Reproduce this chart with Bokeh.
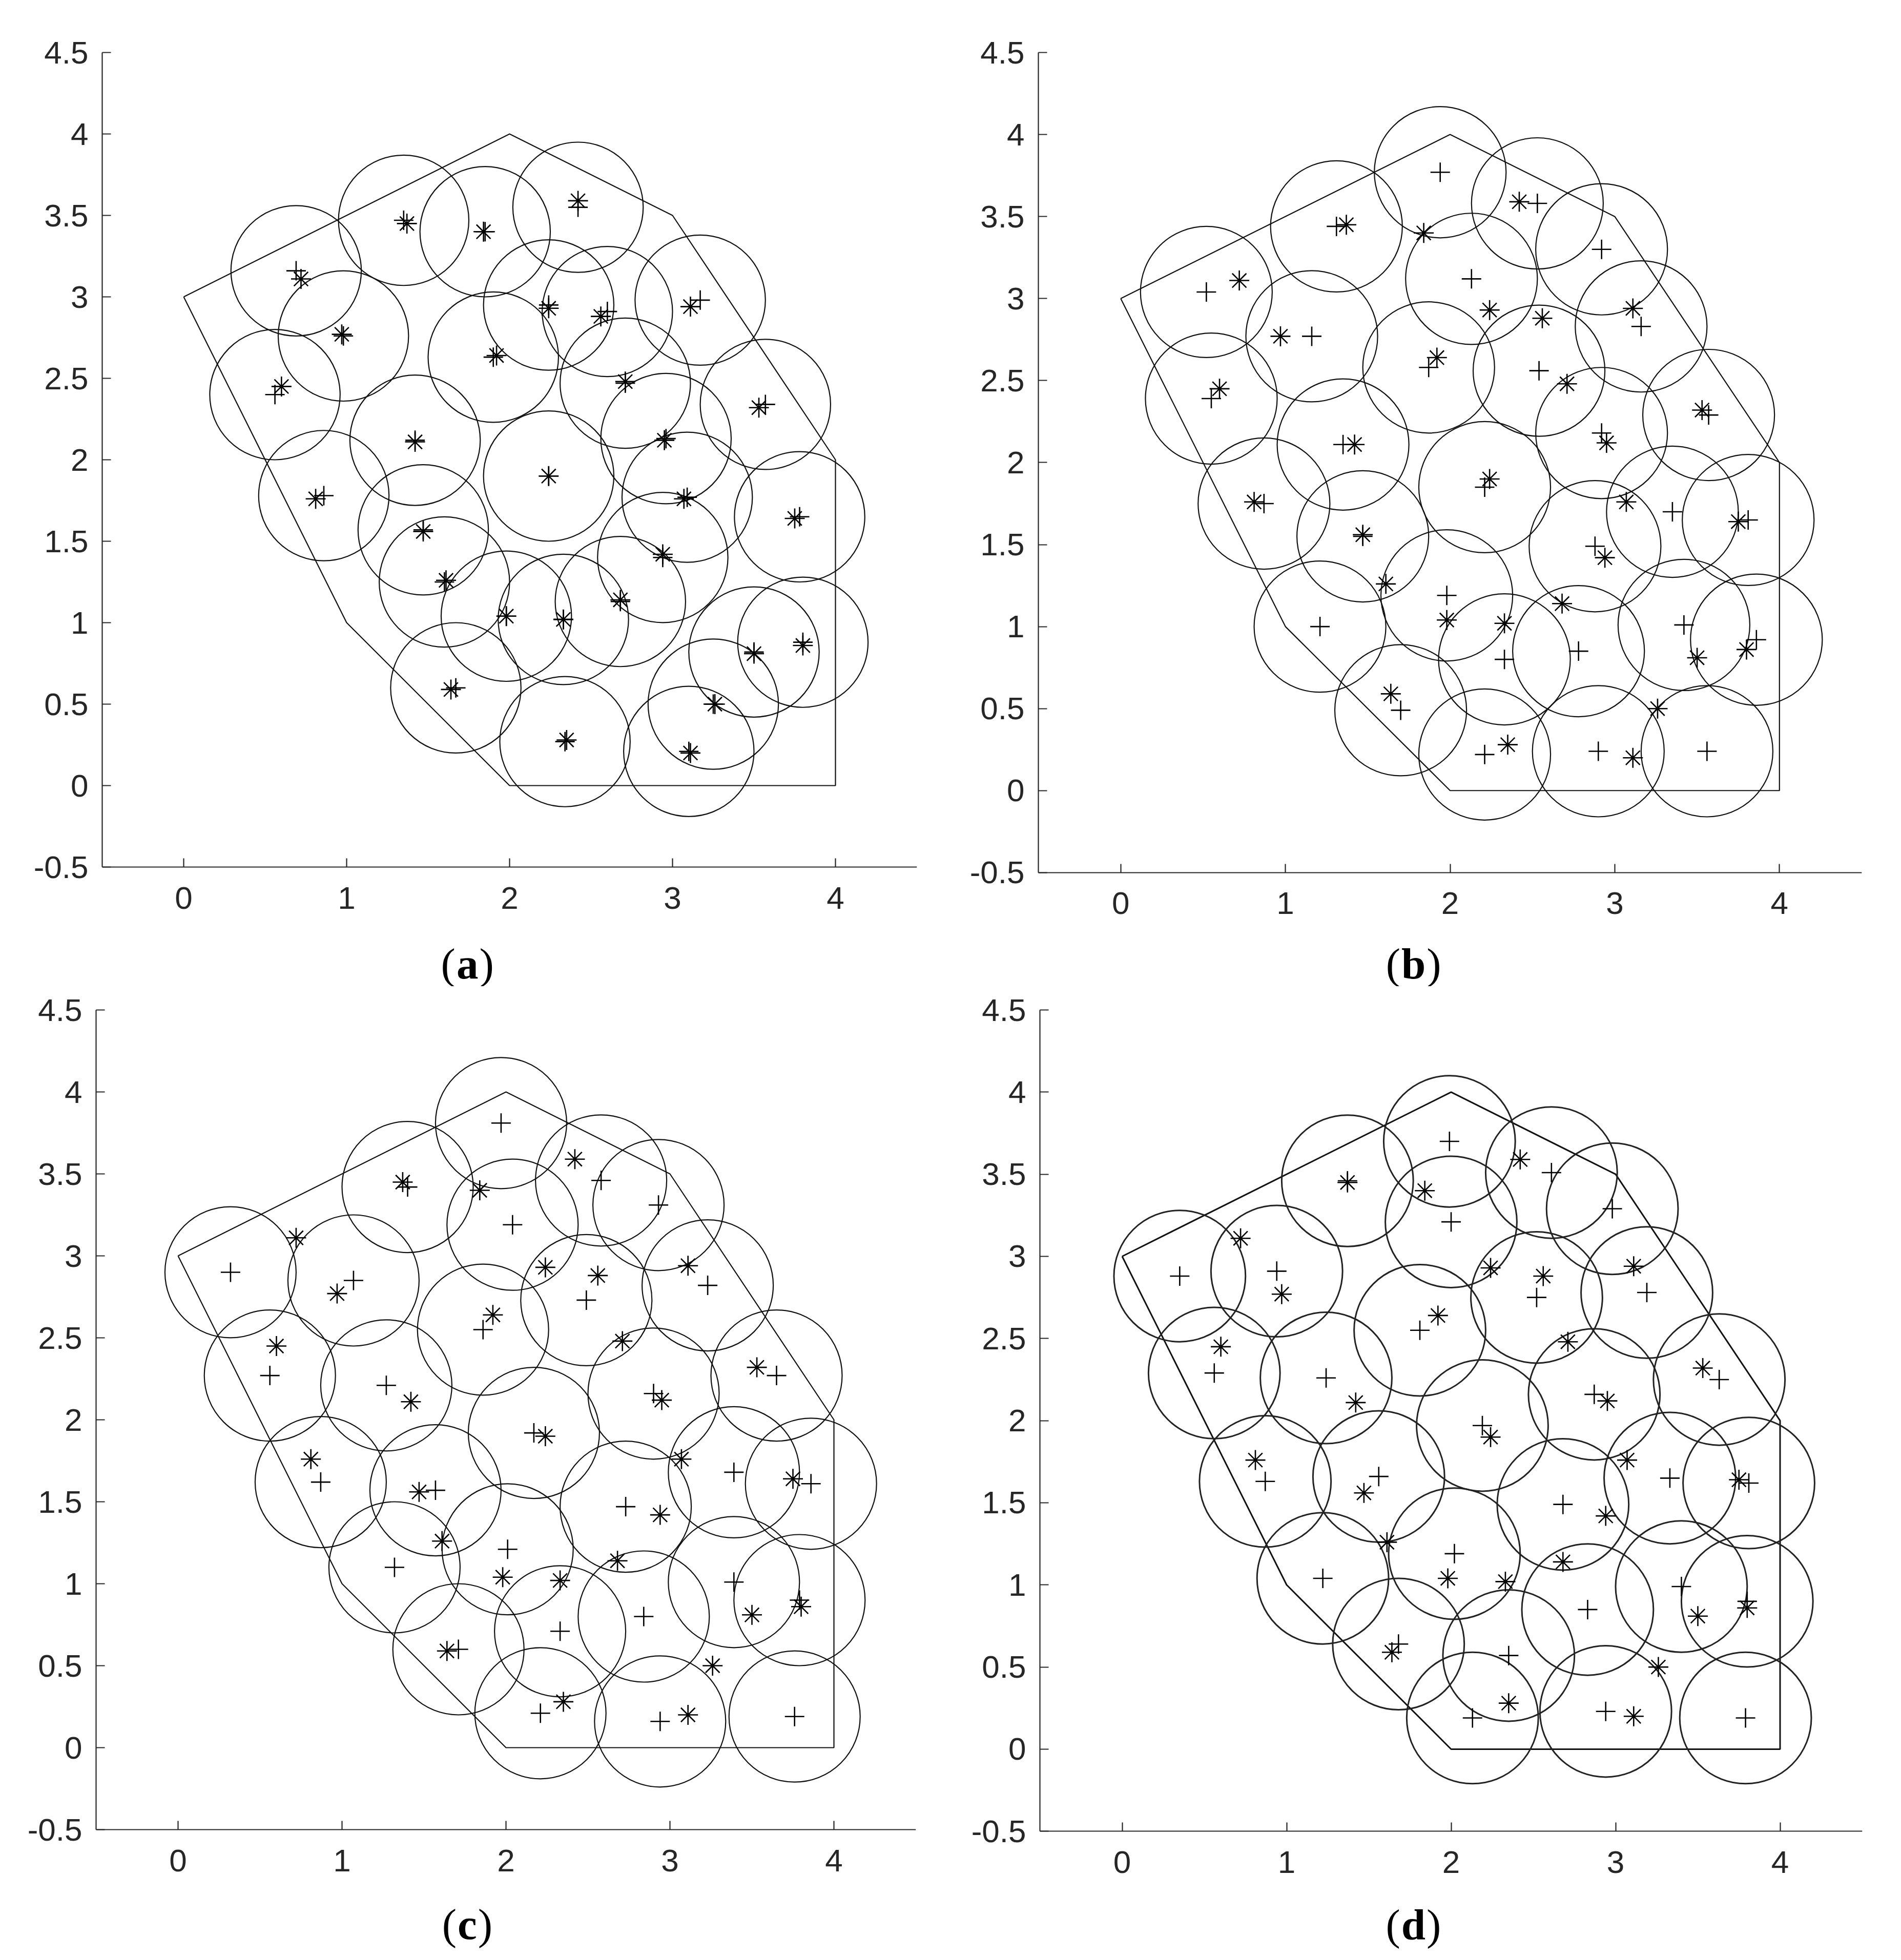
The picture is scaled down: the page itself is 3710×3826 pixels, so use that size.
from bokeh.plotting import figure
from bokeh.models import FixedTicker, Label
from bokeh.layouts import column, row
from bokeh.embed import file_html
from bokeh.resources import INLINE

# ---------------- data ----------------
poly_x = [0, 2, 3, 4, 4, 2, 1, 0]
poly_y = [3, 4, 3.5, 2, 0, 0, 1, 3]

stars_x = [0.72, 0.60, 0.97, 0.81, 1.37, 1.84, 2.42, 2.24, 2.56, 3.11, 1.92, 2.71, 3.53, 1.42, 2.95,
           2.24, 3.07, 3.75, 1.47, 2.94, 1.61, 1.98, 2.33, 2.68, 3.50, 3.80, 3.26, 1.64, 2.35, 3.11]
stars_y = [3.11, 2.45, 2.77, 1.76, 3.45, 3.40, 3.59, 2.93, 2.88, 2.94, 2.64, 2.48, 2.32, 2.11, 2.12,
           1.90, 1.76, 1.64, 1.56, 1.42, 1.26, 1.04, 1.02, 1.14, 0.81, 0.86, 0.50, 0.59, 0.28, 0.20]

a_x = [0.69, 0.98, 0.56, 0.86, 1.35, 1.85, 2.42, 2.24, 2.60, 3.17, 1.90, 2.71, 3.57, 1.42, 2.96,
       2.24, 3.09, 3.78, 1.47, 2.94, 1.60, 1.98, 2.33, 2.68, 3.50, 3.80, 3.25, 1.67, 2.34, 3.10]
a_y = [3.16, 2.76, 2.40, 1.78, 3.47, 3.40, 3.55, 2.95, 2.91, 2.98, 2.63, 2.47, 2.34, 2.12, 2.13,
       1.90, 1.77, 1.65, 1.57, 1.40, 1.25, 1.04, 1.02, 1.13, 0.82, 0.88, 0.50, 0.60, 0.27, 0.21]

b_x = [0.52, 0.55, 1.16, 0.87, 1.31, 1.94, 2.53, 2.92, 2.13, 3.16, 1.87, 2.54, 1.35, 2.92, 3.57,
       2.21, 1.47, 2.88, 3.35, 3.81, 1.21, 1.98, 2.33, 2.78, 3.42, 3.86, 1.70, 2.21, 2.90, 3.56]
b_y = [3.04, 2.39, 2.77, 1.75, 3.44, 3.77, 3.58, 3.30, 3.12, 2.83, 2.58, 2.56, 2.11, 2.18, 2.29,
       1.85, 1.55, 1.49, 1.70, 1.65, 1.00, 1.19, 0.80, 0.85, 1.01, 0.92, 0.49, 0.22, 0.24, 0.24]

c_x = [0.32, 1.07, 0.56, 1.27, 0.87, 1.40, 1.97, 2.04, 2.58, 2.93, 2.49, 3.23, 1.86, 2.90, 3.65,
       2.17, 1.57, 2.73, 3.39, 3.86, 1.32, 2.01, 2.33, 2.84, 3.39, 3.79, 1.71, 2.21, 2.94, 3.76]
c_y = [2.90, 2.85, 2.27, 2.21, 1.62, 3.42, 3.81, 3.19, 3.46, 3.31, 2.73, 2.82, 2.55, 2.16, 2.27,
       1.92, 1.57, 1.47, 1.68, 1.61, 1.10, 1.21, 0.71, 0.80, 1.01, 0.90, 0.60, 0.21, 0.16, 0.19]

d_x = [0.35, 0.94, 0.56, 1.24, 0.87, 1.37, 1.99, 2.00, 2.61, 2.98, 2.52, 3.19, 1.81, 2.87, 3.63,
       2.19, 1.56, 2.68, 3.33, 3.81, 1.22, 2.02, 2.35, 2.83, 3.40, 3.80, 1.68, 2.13, 2.94, 3.79]
d_y = [2.88, 2.91, 2.29, 2.26, 1.63, 3.46, 3.70, 3.21, 3.51, 3.29, 2.75, 2.78, 2.55, 2.16, 2.25,
       1.97, 1.66, 1.49, 1.65, 1.62, 1.04, 1.19, 0.57, 0.85, 0.99, 0.90, 0.64, 0.19, 0.23, 0.19]

coverage_radius = 0.4

x_ticks = [0, 1, 2, 3, 4]
x_tick_labels = ["0", "1", "2", "3", "4"]
y_ticks = [-0.5, 0, 0.5, 1, 1.5, 2, 2.5, 3, 3.5, 4, 4.5]
y_tick_labels = ["-0.5", "0", "0.5", "1", "1.5", "2", "2.5", "3", "3.5", "4", "4.5"]

panel_letters = ["a", "b", "c", "d"]

# ---------------- styling / layout ----------------
AXIS_COLOR = "#262626"
COL_W = 1855
TOP_H, BOT_H = 1925, 1901
AX_LO, AX_HI = -0.5, 4.5

# (fig_height, border_left, border_top, frame_width(=5 units), caption_x, caption_y, line_width, circle_color)
panel_cfg = [
    (TOP_H, 199, 102, 1590, 1.741, -1.092, 2.2, "#111111"),
    (TOP_H, 171, 95, 1607, 1.778, -1.054, 2.2, "#111111"),
    (BOT_H, 187, 46, 1600, 1.764, -1.078, 2.2, "#111111"),
    (BOT_H, 174, 44, 1605, 1.771, -1.067, 3.0, "#222222"),
]
letter_half_adv = {"a": 0.25, "b": 0.278, "c": 0.222, "d": 0.278}
CAP_FONT = "Liberation Serif"
CAP_SIZE = 85
CAP_GAP = 2


def make_panel(cx, cy, letter, cfg):
    fh, bl, bt, fw, lx, ly, lw, ccol = cfg
    scale = fw / (AX_HI - AX_LO)
    y_lo = AX_HI - (fh - bt) / scale          # frame reaches the figure bottom (room for caption)
    p = figure(width=COL_W, height=fh, x_range=(AX_LO, AX_HI), y_range=(y_lo, AX_HI), title=None,
               output_backend="svg", toolbar_location=None,
               min_border_left=bl, min_border_top=bt,
               min_border_right=COL_W - bl - fw, min_border_bottom=0)
    p.outline_line_color = None
    p.xgrid.visible = False
    p.ygrid.visible = False
    p.background_fill_color = "white"
    p.border_fill_color = "white"

    p.xaxis.ticker = FixedTicker(ticks=x_ticks)
    p.xaxis.major_label_overrides = dict(zip(x_ticks, x_tick_labels))
    p.xaxis.fixed_location = AX_LO
    p.yaxis.ticker = FixedTicker(ticks=y_ticks)
    p.yaxis.major_label_overrides = dict(zip(y_ticks, y_tick_labels))
    p.yaxis.bounds = (AX_LO, AX_HI)
    for ax in (p.xaxis[0], p.yaxis[0]):
        ax.axis_line_color = AXIS_COLOR
        ax.axis_line_width = 2.2
        ax.major_tick_in = 17
        ax.major_tick_out = 0
        ax.major_tick_line_color = AXIS_COLOR
        ax.major_tick_line_width = 2.2
        ax.minor_tick_line_color = None
        ax.major_label_text_font = "Liberation Sans"
        ax.major_label_text_font_size = "62px"
        ax.major_label_text_color = AXIS_COLOR
    p.yaxis.major_label_standoff = 27
    p.xaxis.major_label_standoff = 39

    # deployment area polygon
    p.line(poly_x, poly_y, line_color="#111111", line_width=lw)
    # sensing circles
    p.ellipse(x=cx, y=cy, width=2 * coverage_radius, height=2 * coverage_radius,
              fill_color=None, line_color=ccol, line_width=lw)
    # sensor positions (+) and targets (*)
    p.scatter(cx, cy, marker="cross", size=38, line_color="black", line_width=2.6)
    p.scatter(stars_x, stars_y, marker="asterisk", size=39, line_color="black", line_width=2.6)

    # caption "(x)" with a bold letter
    half = letter_half_adv[letter] * CAP_SIZE + CAP_GAP
    fsz = f"{CAP_SIZE}px"
    p.add_layout(Label(x=lx, y=ly, x_offset=-half, text="(", text_align="right",
                       text_font=CAP_FONT, text_font_size=fsz, text_color="black",
                       text_baseline="alphabetic"))
    p.add_layout(Label(x=lx, y=ly, text=letter, text_align="center",
                       text_font=CAP_FONT, text_font_size=fsz, text_font_style="bold",
                       text_color="black", text_baseline="alphabetic"))
    p.add_layout(Label(x=lx, y=ly, x_offset=half, text=")", text_align="left",
                       text_font=CAP_FONT, text_font_size=fsz, text_color="black",
                       text_baseline="alphabetic"))
    return p


panels_xy = [(a_x, a_y), (b_x, b_y), (c_x, c_y), (d_x, d_y)]
figs = [make_panel(xy[0], xy[1], letter, cfg)
        for xy, letter, cfg in zip(panels_xy, panel_letters, panel_cfg)]

layout = column(
    row(figs[0], figs[1], spacing=0),
    row(figs[2], figs[3], spacing=0),
    spacing=0,
)

open("out.html", "w").write(file_html(layout, INLINE))
